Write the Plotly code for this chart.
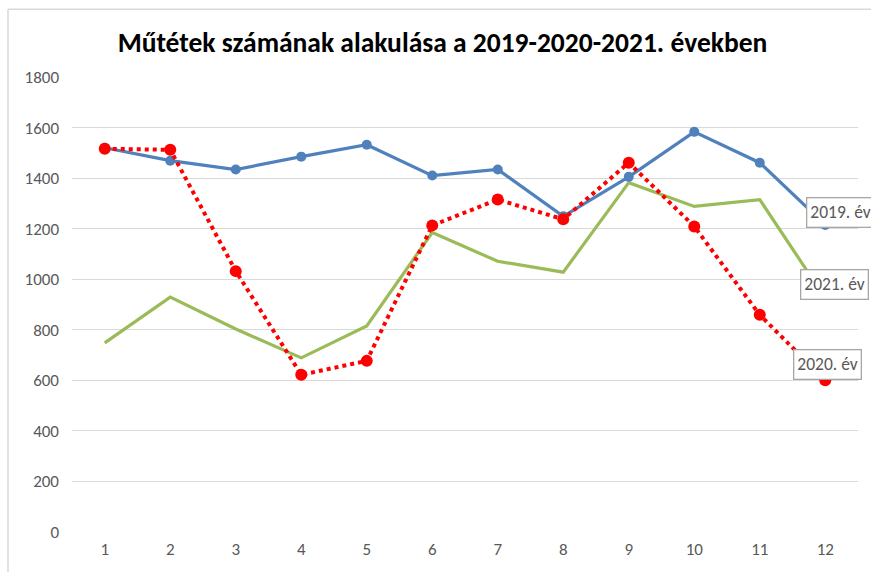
import plotly.graph_objects as go

months = [1, 2, 3, 4, 5, 6, 7, 8, 9, 10, 11, 12]
y2019 = [1520, 1469, 1434, 1485, 1532, 1410, 1434, 1249, 1405, 1583, 1461, 1215]
y2020 = [1516, 1512, 1032, 622, 677, 1213, 1315, 1237, 1461, 1209, 859, 600]
y2021 = [748, 929, 803, 689, 815, 1185, 1071, 1028, 1382, 1288, 1315, 925]
yticks = [0, 200, 400, 600, 800, 1000, 1200, 1400, 1600, 1800]
title = "Műtétek számának alakulása a 2019-2020-2021. években"
labels = ["2019. év", "2020. év", "2021. év"]

FONT = "Carlito, Calibri, Liberation Sans Narrow, Liberation Sans, sans-serif"
BLUE = "#4F81BD"
RED = "#FF0000"
GREEN = "#9BBB59"

fig = go.Figure()
fig.add_trace(go.Scatter(x=months, y=y2021, mode="lines", name=labels[2],
                         line=dict(color=GREEN, width=3.2), cliponaxis=False))
fig.add_trace(go.Scatter(x=months, y=y2019, mode="lines+markers", name=labels[0],
                         line=dict(color=BLUE, width=3.2),
                         marker=dict(color=BLUE, size=10), cliponaxis=False))
fig.add_trace(go.Scatter(x=months, y=y2020, mode="lines+markers", name=labels[1],
                         line=dict(color=RED, width=4, dash="dot"),
                         marker=dict(color=RED, size=12), cliponaxis=False))

def lab(text, yv, xs, ys):
    fig.add_annotation(x=months[-1], y=yv, text=text, showarrow=False,
                       xshift=xs, yshift=ys, xanchor="left", yanchor="middle",
                       font=dict(family=FONT, size=17.5, color="#595959"),
                       bgcolor="white", bordercolor="#A6A6A6", borderwidth=1.3,
                       borderpad=3)

lab(labels[0], y2019[-1], -19, 12)
lab(labels[2], y2021[-1], -25, 14)
lab(labels[1], y2020[-1], -32, 16)

fig.update_layout(
    width=871, height=572,
    margin=dict(l=72, r=13, t=77, b=38),
    paper_bgcolor="white", plot_bgcolor="white",
    showlegend=False,
    title=dict(text="<b>" + title + "</b>", x=0.508, xanchor="center",
               y=1 - 42 / 572, yanchor="middle",
               font=dict(family=FONT, size=27.5, color="black")),
    font=dict(family=FONT, color="#595959", size=17),
    xaxis=dict(tickmode="array", tickvals=months, ticktext=[str(m) for m in months],
               range=[0.5, 12.5], showgrid=False, zeroline=False,
               showline=False, ticks="", ticklabelstandoff=5,
               tickfont=dict(size=17, color="#595959")),
    yaxis=dict(tickmode="array", tickvals=yticks, ticktext=[str(v) for v in yticks],
               range=[0, 1800], showgrid=True, gridcolor="#D9D9D9", gridwidth=1.3,
               zeroline=False, showline=False, ticks="", ticklabelstandoff=12,
               tickfont=dict(size=17, color="#595959")),
)

# chart frame (light border like the original image)
fig.add_shape(type="line", xref="paper", yref="paper",
              x0=-64 / 786, x1=-64 / 786, y0=-1, y1=(534 - 9) / 457,
              line=dict(color="#D9D9D9", width=1.5))
fig.add_shape(type="line", xref="paper", yref="paper",
              x0=-64 / 786, x1=1.1, y0=(534 - 9) / 457, y1=(534 - 9) / 457,
              line=dict(color="#D9D9D9", width=1.5))

fig.write_html("out.html", config={"displayModeBar": False},
               post_script="document.body.style.margin='0';document.body.style.overflow='hidden';")
